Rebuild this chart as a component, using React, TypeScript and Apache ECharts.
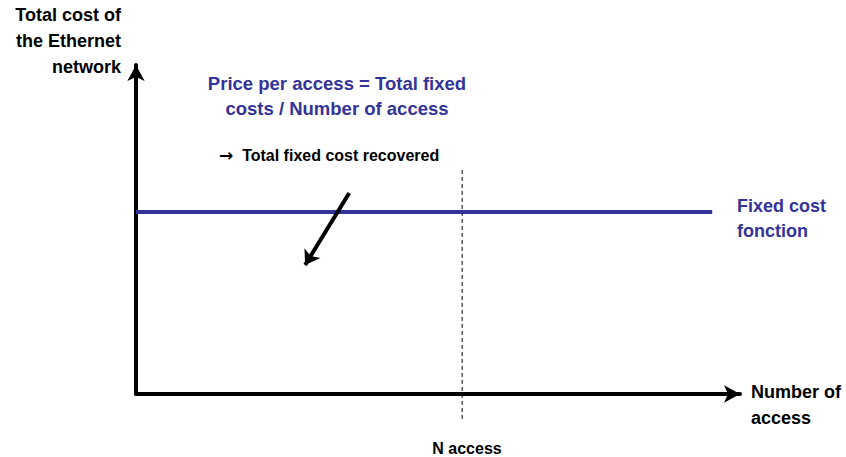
import React, { useEffect, useRef } from "react";
import * as echarts from "echarts";

// Conceptual diagram values (axis units 0..100)
const fixedCostLevel = 55.3;
const fixedCostLine: [number, number][] = [
  [0, fixedCostLevel],
  [95.4, fixedCostLevel],
];
const nAccess = 54.0;
const nAccessLine: [number, number][] = [
  [nAccess, 68.1],
  [nAccess, -7.9],
];
const pointerArrow: [number, number][] = [
  [35.3, 61.1],
  [28.0, 39.2],
];

const yTitle = "Total cost of\nthe Ethernet\nnetwork";
const xTitle = "Number of\naccess";
const priceText = "Price per access = Total fixed\ncosts / Number of access";
const recoveredArrow = "\u2192";
const recoveredText = "  Total fixed cost recovered";
const seriesLabel = "Fixed cost\nfonction";
const nLabel = "N access";

const BLUE = "#333399";
const FONT = "'Liberation Sans', Arial, sans-serif";

export default function App() {
  const ref = useRef<HTMLDivElement>(null);
  useEffect(() => {
    if (!ref.current) return;
    const chart = echarts.init(ref.current, undefined, { renderer: "svg" });
    const txt = (
      text: string,
      x: number,
      y: number,
      align: string,
      size: number,
      color: string,
      lineHeight: number
    ) => ({
      type: "text",
      x,
      y,
      style: {
        text,
        fill: color,
        fontSize: size,
        fontWeight: "bold",
        fontFamily: FONT,
        align,
        verticalAlign: "top",
        lineHeight,
      },
    });
    chart.setOption({
      animation: false,
      grid: { left: 136, right: 106, top: 65, bottom: 63 },
      xAxis: {
        type: "value",
        min: 0,
        max: 100,
        axisLine: {
          show: true,
          symbol: ["none", "arrow"],
          symbolSize: [13, 16],
          lineStyle: { color: "#000", width: 4 },
        },
        axisTick: { show: false },
        axisLabel: { show: false },
        splitLine: { show: false },
      },
      yAxis: {
        type: "value",
        min: 0,
        max: 100,
        axisLine: {
          show: true,
          symbol: ["none", "arrow"],
          symbolSize: [13, 16],
          lineStyle: { color: "#000", width: 4 },
        },
        axisTick: { show: false },
        axisLabel: { show: false },
        splitLine: { show: false },
      },
      series: [
        {
          type: "line",
          data: nAccessLine,
          symbol: "none",
          clip: false,
          lineStyle: { color: "#000", width: 1, type: [4, 3] },
          z: 1,
        },
        {
          type: "line",
          data: fixedCostLine,
          symbol: "none",
          lineStyle: { color: BLUE, width: 4 },
          z: 2,
        },
        {
          type: "lines",
          coordinateSystem: "cartesian2d",
          symbol: ["none", "arrow"],
          symbolSize: 14,
          lineStyle: { color: "#000", width: 4, opacity: 1 },
          data: [{ coords: pointerArrow }],
          z: 3,
        },
      ],
      graphic: [
        txt(yTitle, 121, 2, "right", 18, "#000", 26),
        txt(priceText, 337, 70.5, "center", 18.5, BLUE, 25),
        {
          type: "text",
          x: 219,
          y: 146,
          style: {
            text: `{a|${recoveredArrow}}{b|${recoveredText}}`,
            align: "left",
            verticalAlign: "top",
            rich: {
              a: { fontSize: 17, fontWeight: "bold", fontFamily: "'DejaVu Sans'", fill: "#000", lineHeight: 18 },
              b: { fontSize: 16, fontWeight: "bold", fontFamily: FONT, fill: "#000", lineHeight: 18 },
            },
          },
        },
        txt(seriesLabel, 737, 193.5, "left", 18, BLUE, 25),
        txt(xTitle, 751, 379.5, "left", 18, "#000", 25.5),
        txt(nLabel, 467, 439, "center", 16, "#000", 18),
      ],
    });
    return () => chart.dispose();
  }, []);
  return (
    <div
      ref={ref}
      style={{ position: "fixed", left: 0, top: 0, width: 846, height: 457, background: "#fff" }}
    />
  );
}
